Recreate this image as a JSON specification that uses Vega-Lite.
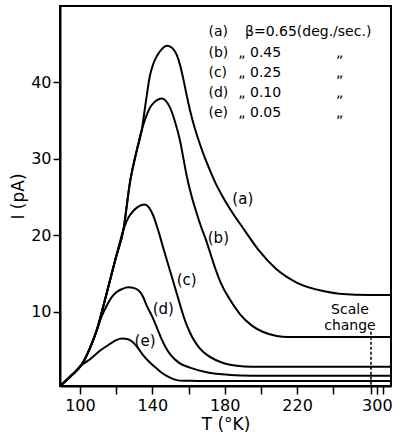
{
  "$schema": "https://vega.github.io/schema/vega-lite/v6.json",
  "width": 331,
  "height": 380,
  "autosize": {"type": "none"},
  "padding": {"left": 60, "top": 6, "right": 10, "bottom": 50},
  "background": "white",
  "config": {
    "view": {"stroke": "black", "strokeWidth": 2},
    "font": "DejaVu Sans",
    "axis": {
      "grid": false,
      "domainColor": "black",
      "domainWidth": 2,
      "tickColor": "black",
      "tickWidth": 1.5,
      "tickSize": 8,
      "labelColor": "black",
      "labelFont": "DejaVu Sans",
      "labelFontSize": 16,
      "titleColor": "black",
      "titleFont": "DejaVu Sans",
      "titleFontSize": 17,
      "titleFontWeight": "normal"
    }
  },
  "datasets": {
    "curves": [
      {"curve": "a", "T": 89, "I": 0.3}, {"curve": "a", "T": 95, "I": 1.6}, {"curve": "a", "T": 101, "I": 3.1}, {"curve": "a", "T": 105.6, "I": 5.3}, {"curve": "a", "T": 109.3, "I": 7.6}, {"curve": "a", "T": 113, "I": 10.8}, {"curve": "a", "T": 116.6, "I": 14.1}, {"curve": "a", "T": 120, "I": 17.2}, {"curve": "a", "T": 124, "I": 20.7}, {"curve": "a", "T": 127.7, "I": 27.0}, {"curve": "a", "T": 131.4, "I": 31.1}, {"curve": "a", "T": 134.1, "I": 33.7}, {"curve": "a", "T": 136.5, "I": 37.6}, {"curve": "a", "T": 138.7, "I": 40.9}, {"curve": "a", "T": 140.5, "I": 42.4}, {"curve": "a", "T": 142.4, "I": 43.4}, {"curve": "a", "T": 145, "I": 44.3}, {"curve": "a", "T": 148.3, "I": 44.8}, {"curve": "a", "T": 151, "I": 44.5}, {"curve": "a", "T": 153.5, "I": 43.6}, {"curve": "a", "T": 155.3, "I": 42.3}, {"curve": "a", "T": 157.1, "I": 40.5}, {"curve": "a", "T": 159, "I": 38.3}, {"curve": "a", "T": 161, "I": 36.2}, {"curve": "a", "T": 163, "I": 34.4}, {"curve": "a", "T": 165.5, "I": 32.5}, {"curve": "a", "T": 168, "I": 30.8}, {"curve": "a", "T": 171, "I": 29.0}, {"curve": "a", "T": 175, "I": 26.8}, {"curve": "a", "T": 180, "I": 24.6}, {"curve": "a", "T": 185, "I": 22.7}, {"curve": "a", "T": 190, "I": 21.0}, {"curve": "a", "T": 199, "I": 18.0}, {"curve": "a", "T": 208, "I": 15.7}, {"curve": "a", "T": 220, "I": 13.8}, {"curve": "a", "T": 235, "I": 12.7}, {"curve": "a", "T": 252, "I": 12.25}, {"curve": "a", "T": 324, "I": 12.2},
      {"curve": "b", "T": 89, "I": 0.3}, {"curve": "b", "T": 95, "I": 1.6}, {"curve": "b", "T": 101, "I": 3.1}, {"curve": "b", "T": 105.6, "I": 5.3}, {"curve": "b", "T": 109.3, "I": 7.6}, {"curve": "b", "T": 113, "I": 10.8}, {"curve": "b", "T": 116.6, "I": 14.1}, {"curve": "b", "T": 120, "I": 17.2}, {"curve": "b", "T": 124, "I": 20.7}, {"curve": "b", "T": 127.7, "I": 27.0}, {"curve": "b", "T": 131.4, "I": 31.1}, {"curve": "b", "T": 134.1, "I": 33.7}, {"curve": "b", "T": 136.5, "I": 35.5}, {"curve": "b", "T": 138.7, "I": 36.7}, {"curve": "b", "T": 141, "I": 37.4}, {"curve": "b", "T": 143.5, "I": 37.8}, {"curve": "b", "T": 145.5, "I": 37.9}, {"curve": "b", "T": 147.5, "I": 37.6}, {"curve": "b", "T": 149.8, "I": 36.7}, {"curve": "b", "T": 152.5, "I": 34.9}, {"curve": "b", "T": 155.3, "I": 32.4}, {"curve": "b", "T": 157, "I": 30.3}, {"curve": "b", "T": 159, "I": 27.8}, {"curve": "b", "T": 161.5, "I": 25.3}, {"curve": "b", "T": 164.5, "I": 22.9}, {"curve": "b", "T": 167, "I": 21.1}, {"curve": "b", "T": 169.5, "I": 19.5}, {"curve": "b", "T": 172, "I": 17.7}, {"curve": "b", "T": 174.6, "I": 15.8}, {"curve": "b", "T": 178, "I": 13.7}, {"curve": "b", "T": 182.9, "I": 11.6}, {"curve": "b", "T": 188.4, "I": 9.7}, {"curve": "b", "T": 195, "I": 8.2}, {"curve": "b", "T": 201, "I": 7.4}, {"curve": "b", "T": 208.7, "I": 6.85}, {"curve": "b", "T": 215, "I": 6.7}, {"curve": "b", "T": 324, "I": 6.7},
      {"curve": "c", "T": 89, "I": 0.3}, {"curve": "c", "T": 95, "I": 1.6}, {"curve": "c", "T": 101, "I": 3.1}, {"curve": "c", "T": 105.6, "I": 5.3}, {"curve": "c", "T": 109.3, "I": 7.6}, {"curve": "c", "T": 113, "I": 10.8}, {"curve": "c", "T": 116.6, "I": 14.1}, {"curve": "c", "T": 120, "I": 17.2}, {"curve": "c", "T": 124, "I": 20.7}, {"curve": "c", "T": 126.5, "I": 22.2}, {"curve": "c", "T": 129.5, "I": 23.2}, {"curve": "c", "T": 132.5, "I": 23.8}, {"curve": "c", "T": 135.6, "I": 24.05}, {"curve": "c", "T": 138, "I": 23.7}, {"curve": "c", "T": 140.5, "I": 22.6}, {"curve": "c", "T": 142.4, "I": 21.3}, {"curve": "c", "T": 144.2, "I": 19.9}, {"curve": "c", "T": 146, "I": 18.4}, {"curve": "c", "T": 148, "I": 16.8}, {"curve": "c", "T": 150, "I": 15.2}, {"curve": "c", "T": 152, "I": 13.6}, {"curve": "c", "T": 154, "I": 12.0}, {"curve": "c", "T": 156, "I": 10.4}, {"curve": "c", "T": 158, "I": 8.9}, {"curve": "c", "T": 160.8, "I": 7.3}, {"curve": "c", "T": 163, "I": 6.3}, {"curve": "c", "T": 166, "I": 5.3}, {"curve": "c", "T": 170, "I": 4.4}, {"curve": "c", "T": 175, "I": 3.7}, {"curve": "c", "T": 180, "I": 3.25}, {"curve": "c", "T": 186.6, "I": 2.95}, {"curve": "c", "T": 195, "I": 2.83}, {"curve": "c", "T": 324, "I": 2.83},
      {"curve": "d", "T": 89, "I": 0.3}, {"curve": "d", "T": 95, "I": 1.6}, {"curve": "d", "T": 101, "I": 3.1}, {"curve": "d", "T": 105.6, "I": 5.3}, {"curve": "d", "T": 109.3, "I": 7.6}, {"curve": "d", "T": 112, "I": 9.4}, {"curve": "d", "T": 114.8, "I": 10.8}, {"curve": "d", "T": 117.5, "I": 11.9}, {"curve": "d", "T": 120.3, "I": 12.6}, {"curve": "d", "T": 123.5, "I": 13.0}, {"curve": "d", "T": 126.7, "I": 13.2}, {"curve": "d", "T": 130, "I": 13.1}, {"curve": "d", "T": 133.2, "I": 12.6}, {"curve": "d", "T": 135, "I": 11.9}, {"curve": "d", "T": 136.9, "I": 10.8}, {"curve": "d", "T": 139.7, "I": 9.5}, {"curve": "d", "T": 142.4, "I": 8.0}, {"curve": "d", "T": 145, "I": 6.5}, {"curve": "d", "T": 147.5, "I": 5.3}, {"curve": "d", "T": 150, "I": 4.4}, {"curve": "d", "T": 155, "I": 3.3}, {"curve": "d", "T": 160.8, "I": 2.7}, {"curve": "d", "T": 170, "I": 2.1}, {"curve": "d", "T": 183, "I": 1.75}, {"curve": "d", "T": 195, "I": 1.65}, {"curve": "d", "T": 324, "I": 1.64},
      {"curve": "e", "T": 89, "I": 0.3}, {"curve": "e", "T": 95, "I": 1.6}, {"curve": "e", "T": 101, "I": 3.05}, {"curve": "e", "T": 105.6, "I": 3.8}, {"curve": "e", "T": 111, "I": 4.9}, {"curve": "e", "T": 116.6, "I": 5.8}, {"curve": "e", "T": 120, "I": 6.3}, {"curve": "e", "T": 123.4, "I": 6.5}, {"curve": "e", "T": 126, "I": 6.45}, {"curve": "e", "T": 129, "I": 6.1}, {"curve": "e", "T": 132, "I": 5.3}, {"curve": "e", "T": 135, "I": 4.3}, {"curve": "e", "T": 138.5, "I": 3.4}, {"curve": "e", "T": 142.4, "I": 2.6}, {"curve": "e", "T": 146, "I": 1.9}, {"curve": "e", "T": 149.8, "I": 1.4}, {"curve": "e", "T": 153, "I": 1.1}, {"curve": "e", "T": 157, "I": 0.98}, {"curve": "e", "T": 165, "I": 0.97}, {"curve": "e", "T": 324, "I": 0.97}
    ],
    "curveLabels": [
      {"T": 190, "I": 24.8, "text": "(a)"},
      {"T": 176.5, "I": 19.6, "text": "(b)"},
      {"T": 159, "I": 14.1, "text": "(c)"},
      {"T": 146.1, "I": 10.4, "text": "(d)"},
      {"T": 136, "I": 6.2, "text": "(e)"}
    ],
    "legend": [
      {"T": 171, "I": 46.6, "text": "(a)"},
      {"T": 171, "I": 43.9, "text": "(b)"},
      {"T": 171, "I": 41.2, "text": "(c)"},
      {"T": 171, "I": 38.6, "text": "(d)"},
      {"T": 171, "I": 36.0, "text": "(e)"},
      {"T": 191.2, "I": 46.6, "text": "β=0.65(deg./sec.)"},
      {"T": 187.5, "I": 43.9, "text": "„ 0.45"},
      {"T": 187.5, "I": 41.2, "text": "„ 0.25"},
      {"T": 187.5, "I": 38.6, "text": "„ 0.10"},
      {"T": 187.5, "I": 36.0, "text": "„ 0.05"},
      {"T": 241.5, "I": 43.9, "text": "„"},
      {"T": 241.5, "I": 41.2, "text": "„"},
      {"T": 241.5, "I": 38.6, "text": "„"},
      {"T": 241.5, "I": 36.0, "text": "„"}
    ],
    "note": [
      {"T": 249.2, "I": 10.2, "text": "Scale"},
      {"T": 249.2, "I": 8.1, "text": "change"}
    ],
    "marker": [{"T": 290, "I": 7.4, "I2": 0.3}]
  },
  "encoding": {
    "x": {
      "field": "T", "type": "quantitative",
      "scale": {"domain": [89, 260, 290, 324], "range": [0, 309.5, 311, 331], "nice": false, "zero": false},
      "axis": {
        "title": "T (°K)",
        "values": [100, 120, 140, 160, 180, 200, 220, 240, 290, 300, 310],
        "labelExpr": "(datum.value == 100 || datum.value == 140 || datum.value == 180 || datum.value == 220 || datum.value == 300) ? datum.label : ''",
        "labelPadding": 3,
        "titlePadding": 3,
        "labelFlush": false,
        "labelOverlap": false
      }
    },
    "y": {
      "field": "I", "type": "quantitative",
      "scale": {"domain": [0.3, 50], "nice": false, "zero": false},
      "axis": {
        "title": "I (pA)",
        "values": [10, 20, 30, 40],
        "labelPadding": 2,
        "tickSize": 7,
        "titleX": -42,
        "titleBaseline": "middle",
        "titleAngle": -90
      }
    }
  },
  "layer": [
    {
      "data": {"name": "curves"},
      "mark": {"type": "line", "color": "black", "strokeWidth": 2, "interpolate": "monotone"},
      "encoding": {"detail": {"field": "curve", "type": "nominal"}}
    },
    {
      "data": {"name": "curveLabels"},
      "mark": {"type": "text", "font": "DejaVu Sans", "fontSize": 15, "color": "black", "align": "center", "baseline": "middle"},
      "encoding": {"text": {"field": "text"}}
    },
    {
      "data": {"name": "legend"},
      "mark": {"type": "text", "font": "DejaVu Sans", "fontSize": 14, "color": "black", "align": "left", "baseline": "middle"},
      "encoding": {"text": {"field": "text"}}
    },
    {
      "data": {"name": "note"},
      "mark": {"type": "text", "font": "DejaVu Sans", "fontSize": 14, "color": "black", "align": "center", "baseline": "middle"},
      "encoding": {"text": {"field": "text"}}
    },
    {
      "data": {"name": "marker"},
      "mark": {"type": "rule", "color": "black", "strokeWidth": 1.5, "strokeDash": [3, 2]},
      "encoding": {"y2": {"field": "I2"}}
    }
  ]
}
